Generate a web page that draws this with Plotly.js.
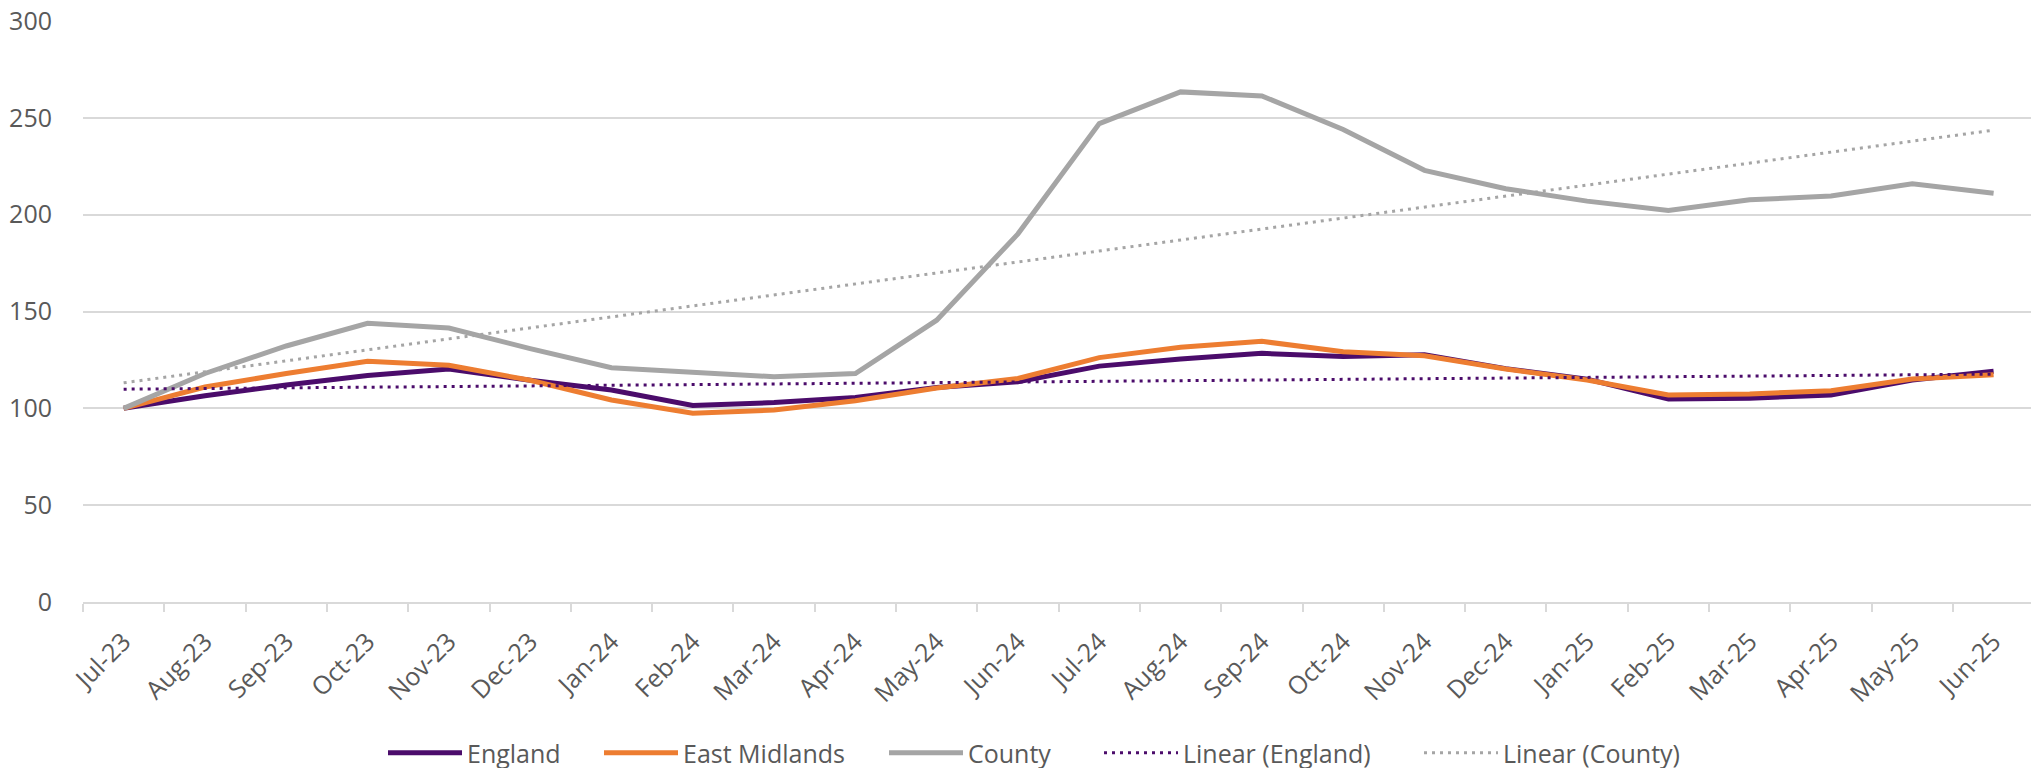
<!DOCTYPE html>
<html>
<head>
<meta charset="utf-8">
<script src="https://cdn.plot.ly/plotly-3.0.1.min.js"></script>
<style>
  html, body { margin: 0; padding: 0; background: #ffffff; }
  #chart { width: 2031px; height: 768px; }
</style>
</head>
<body>
<div id="chart"></div>
<script>
// Monthly index values (Jul-23 = 100)
const months = ["Jul-23","Aug-23","Sep-23","Oct-23","Nov-23","Dec-23","Jan-24","Feb-24","Mar-24","Apr-24","May-24","Jun-24",
                "Jul-24","Aug-24","Sep-24","Oct-24","Nov-24","Dec-24","Jan-25","Feb-25","Mar-25","Apr-25","May-25","Jun-25"];

const england = [100, 106.5, 112, 117, 120.3, 114.5, 109.5, 101.5, 103, 105.6, 110.8, 113.7,
                 121.8, 125.5, 128.4, 126.7, 127.7, 120.5, 115.1, 104.8, 105.2, 106.9, 114.6, 119.1];

const eastMidlands = [100, 111, 118, 124.3, 122.2, 114.5, 104.3, 97.5, 99.1, 103.9, 110.5, 115.4,
                      126.2, 131.5, 134.6, 129.2, 127.2, 120.3, 114.6, 106.9, 107.4, 109.1, 115.1, 117.4];

const county = [100, 118, 132.2, 143.9, 141.5, 130.8, 121, 118.8, 116.3, 118, 145.5, 190.1,
                247, 263.4, 261.3, 244, 222.9, 213.4, 207, 202.2, 207.7, 209.6, 216, 211.1];

const yTicks = [0, 50, 100, 150, 200, 250, 300];

// Least-squares straight line through a series, evaluated at each month index
function linearTrend(values) {
  const n = values.length;
  let sx = 0, sy = 0, sxx = 0, sxy = 0;
  values.forEach((v, i) => { sx += i; sy += v; sxx += i * i; sxy += i * v; });
  const slope = (n * sxy - sx * sy) / (n * sxx - sx * sx);
  const intercept = (sy - slope * sx) / n;
  return values.map((_, i) => intercept + slope * i);
}

const PURPLE = "#4b0c6b";
const ORANGE = "#ed7d31";
const GREY = "#a5a5a5";
const TEXT = "#595959";
const GRID = "#d9d9d9";
const FONT = "'Open Sans', sans-serif";
const FONT_SIZE = 25;
const W = 2031, H = 768;

const traces = [
  { name: "England", legend: "legend", x: months, y: england, type: "scatter", mode: "lines",
    line: { color: PURPLE, width: 5 } },
  { name: "East Midlands", legend: "legend2", x: months, y: eastMidlands, type: "scatter", mode: "lines",
    line: { color: ORANGE, width: 5 } },
  { name: "County", legend: "legend3", x: months, y: county, type: "scatter", mode: "lines",
    line: { color: GREY, width: 5 } },
  { name: "Linear (England)", legend: "legend4", x: months, y: linearTrend(england), type: "scatter", mode: "lines",
    line: { color: PURPLE, width: 3, dash: "3px,5px" } },
  { name: "Linear (County)", legend: "legend5", x: months, y: linearTrend(county), type: "scatter", mode: "lines",
    line: { color: GREY, width: 3, dash: "3px,5px" } }
];

// One legend per entry so the entries sit at fixed pixel offsets along the bottom row
function legendAt(px) {
  return {
    orientation: "h",
    xref: "container", yref: "container",
    x: px / W, xanchor: "left",
    y: 1 - 753 / H, yanchor: "middle",
    bgcolor: "rgba(0,0,0,0)",
    borderwidth: 0,
    itemwidth: 74,
    font: { family: FONT, size: FONT_SIZE, color: TEXT }
  };
}

const layout = {
  width: W,
  height: H,
  paper_bgcolor: "#ffffff",
  plot_bgcolor: "#ffffff",
  margin: { l: 83, r: 0, t: 21, b: 166, pad: 0 },
  font: { family: FONT, size: FONT_SIZE, color: TEXT },
  showlegend: true,
  legend: legendAt(383),
  legend2: legendAt(599),
  legend3: legendAt(884),
  legend4: legendAt(1099),
  legend5: legendAt(1419),
  xaxis: {
    type: "category",
    range: [-0.5, 23.46],
    showgrid: false,
    showline: true,
    linecolor: GRID,
    linewidth: 2,
    ticks: "outside",
    tickson: "boundaries",
    ticklen: 8,
    tickwidth: 2,
    tickcolor: GRID,
    tickangle: -45,
    ticklabelstandoff: 13,
    tickfont: { family: FONT, size: FONT_SIZE, color: TEXT },
    fixedrange: true
  },
  yaxis: {
    range: [0, 300],
    tickvals: yTicks,
    showgrid: true,
    gridcolor: GRID,
    gridwidth: 2,
    zeroline: false,
    showline: false,
    ticks: "",
    ticklabelstandoff: 30,
    tickfont: { family: FONT, size: FONT_SIZE, color: TEXT },
    fixedrange: true
  }
};

Plotly.newPlot("chart", traces, layout, { displayModeBar: false, staticPlot: true });
</script>
</body>
</html>
